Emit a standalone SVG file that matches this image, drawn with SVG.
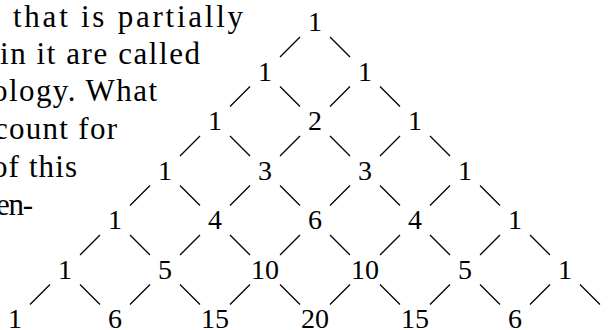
<svg xmlns="http://www.w3.org/2000/svg" width="609" height="330" viewBox="0 0 609 330">
<style>
.t{font-family:"Liberation Serif","DejaVu Serif",serif;font-size:31px;fill:#000}
.n{font-family:"Liberation Serif","DejaVu Serif",serif;font-size:28px;fill:#000;text-anchor:middle}
.c{stroke:#000;stroke-width:1.3;fill:none}
</style>
<rect width="609" height="330" fill="#fff"/>
<g id="text">
<text class="t" x="13" y="27" textLength="230">that is partially</text>
<text class="t" x="0" y="63.5" textLength="200">in it are called</text>
<text class="t" x="-8" y="101" textLength="165">ology. What</text>
<text class="t" x="-6" y="138.5" textLength="123">count for</text>
<text class="t" x="-8" y="176.5" textLength="85">of this</text>
<text class="t" x="-4" y="214.5" textLength="37">en-</text>
</g>
<g id="connectors" class="c">
<path d="M300 37l-20 20M330 37l20 20"/>
<path d="M250 86.5l-20 20M280 86.5l20 20M350 86.5l-20 20M380 86.5l20 20"/>
<path d="M200 136l-20 20M230 136l20 20M300 136l-20 20M330 136l20 20M400 136l-20 20M430 136l20 20"/>
<path d="M150 185.5l-20 20M180 185.5l20 20M250 185.5l-20 20M280 185.5l20 20M350 185.5l-20 20M380 185.5l20 20M450 185.5l-20 20M480 185.5l20 20"/>
<path d="M100 235l-20 20M130 235l20 20M200 235l-20 20M230 235l20 20M300 235l-20 20M330 235l20 20M400 235l-20 20M430 235l20 20M500 235l-20 20M530 235l20 20"/>
<path d="M50 284.5l-20 20M80 284.5l20 20M150 284.5l-20 20M180 284.5l20 20M250 284.5l-20 20M280 284.5l20 20M350 284.5l-20 20M380 284.5l20 20M450 284.5l-20 20M480 284.5l20 20M550 284.5l-20 20M580 284.5l20 20"/>
</g>
<g id="n0-0"><text class="n" x="315" y="31">1</text></g>
<g id="n1-0"><text class="n" x="265" y="80.5">1</text></g>
<g id="n1-1"><text class="n" x="365" y="80.5">1</text></g>
<g id="n2-0"><text class="n" x="215" y="130">1</text></g>
<g id="n2-1"><text class="n" x="315" y="130">2</text></g>
<g id="n2-2"><text class="n" x="415" y="130">1</text></g>
<g id="n3-0"><text class="n" x="165" y="179.5">1</text></g>
<g id="n3-1"><text class="n" x="265" y="179.5">3</text></g>
<g id="n3-2"><text class="n" x="365" y="179.5">3</text></g>
<g id="n3-3"><text class="n" x="465" y="179.5">1</text></g>
<g id="n4-0"><text class="n" x="115" y="229">1</text></g>
<g id="n4-1"><text class="n" x="215" y="229">4</text></g>
<g id="n4-2"><text class="n" x="315" y="229">6</text></g>
<g id="n4-3"><text class="n" x="415" y="229">4</text></g>
<g id="n4-4"><text class="n" x="515" y="229">1</text></g>
<g id="n5-0"><text class="n" x="65" y="278.5">1</text></g>
<g id="n5-1"><text class="n" x="165" y="278.5">5</text></g>
<g id="n5-2"><text class="n" x="265" y="278.5">10</text></g>
<g id="n5-3"><text class="n" x="365" y="278.5">10</text></g>
<g id="n5-4"><text class="n" x="465" y="278.5">5</text></g>
<g id="n5-5"><text class="n" x="565" y="278.5">1</text></g>
<g id="n6-0"><text class="n" x="15" y="328">1</text></g>
<g id="n6-1"><text class="n" x="115" y="328">6</text></g>
<g id="n6-2"><text class="n" x="215" y="328">15</text></g>
<g id="n6-3"><text class="n" x="315" y="328">20</text></g>
<g id="n6-4"><text class="n" x="415" y="328">15</text></g>
<g id="n6-5"><text class="n" x="515" y="328">6</text></g>
<g id="n6-6"><text class="n" x="615" y="328">1</text></g>
</svg>
